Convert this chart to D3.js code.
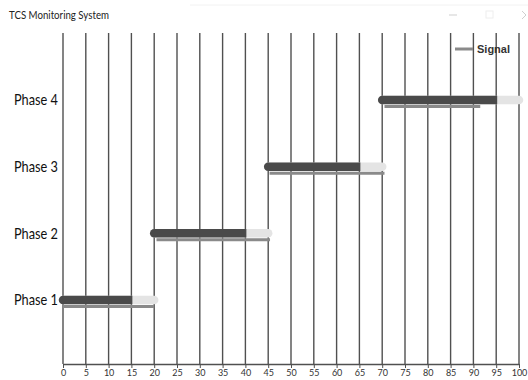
<!DOCTYPE html>
<html>
<head>
<meta charset="utf-8">
<script src="https://cdn.jsdelivr.net/npm/d3@7"></script>
<style>
  html, body { margin: 0; padding: 0; background: #fff; }
  svg { display: block; }
</style>
</head>
<body>
<svg id="chart" width="528" height="380"></svg>
<script>
const phases = ["Phase 1", "Phase 2", "Phase 3", "Phase 4"];
const barStart = [0, 20, 45, 70];
const barMid = [15, 40, 65, 95];
const barEnd = [20, 45, 70, 100];
const signalStart = [0, 20.5, 45.3, 70.5];
const signalEnd = [20, 45.4, 70.5, 91.5];
const xTicks = d3.range(0, 101, 5);

const svg = d3.select("#chart");

// window title bar
svg.append("text").attr("x", 9).attr("y", 19)
  .attr("font-family", "Lato, 'Open Sans', sans-serif")
  .attr("font-size", 11.5).attr("fill", "#222")
  .attr("textLength", 100).attr("lengthAdjust", "spacingAndGlyphs")
  .text("TCS Monitoring System");
svg.append("line").attr("x1", 190).attr("x2", 528).attr("y1", 5).attr("y2", 5)
  .attr("stroke", "#f2f2f2").attr("stroke-width", 1);
svg.append("line").attr("x1", 449).attr("x2", 457).attr("y1", 15).attr("y2", 15)
  .attr("stroke", "#cfcfcf").attr("stroke-width", 1);
svg.append("rect").attr("x", 486).attr("y", 11).attr("width", 7).attr("height", 7)
  .attr("fill", "none").attr("stroke", "#eeeeee").attr("stroke-width", 1);
svg.append("path").attr("d", "M522,11 L526,15 L522,19")
  .attr("fill", "none").attr("stroke", "#cfcfcf").attr("stroke-width", 1);

const x = d3.scaleLinear().domain([0, 100]).range([63, 519]);
const y = d3.scalePoint().domain(phases).range([300, 100]);
const axisY = 364, gridTop = 33;

// grid lines
svg.append("g").selectAll("line").data(xTicks).join("line")
  .attr("x1", d => x(d)).attr("x2", d => x(d))
  .attr("y1", gridTop).attr("y2", axisY)
  .attr("stroke", "#505050").attr("stroke-width", 1.4);

// x axis
const xAxis = svg.append("g").attr("transform", `translate(0,${axisY})`)
  .call(d3.axisBottom(x).tickValues(xTicks).tickSize(4).tickSizeOuter(0).tickPadding(2));
xAxis.select(".domain").attr("stroke", "#505050").attr("stroke-width", 1.5);
xAxis.selectAll(".tick line").attr("stroke", "#505050");
xAxis.selectAll("text").attr("font-family", "Lato, 'Open Sans', sans-serif")
  .attr("font-size", 9).attr("fill", "#333");

// phase labels
svg.append("g").selectAll("text").data(phases).join("text")
  .attr("x", 14).attr("y", d => y(d)).attr("dy", "0.35em")
  .attr("font-family", "Lato, 'Open Sans', sans-serif")
  .attr("font-size", 15).attr("fill", "#111")
  .attr("textLength", 44).attr("lengthAdjust", "spacingAndGlyphs")
  .text(d => d);

// light bars (full extent)
svg.append("g").selectAll("line").data(phases).join("line")
  .attr("x1", (d, i) => x(barStart[i])).attr("x2", (d, i) => x(barEnd[i]))
  .attr("y1", d => y(d)).attr("y2", d => y(d))
  .attr("stroke", "#e4e4e4").attr("stroke-width", 8.5).attr("stroke-linecap", "round");

// dark bars (completed): rounded left end, flat right end
svg.append("g").selectAll("path").data(phases).join("path")
  .attr("d", (d, i) => {
    const x0 = x(barStart[i]), x1 = x(barMid[i]) + 1, cy = y(d), r = 4.25;
    return `M${x1},${cy - r} L${x0},${cy - r} A${r},${r} 0 0 0 ${x0},${cy + r} L${x1},${cy + r} Z`;
  })
  .attr("fill", "#4a4a4a");

// signal lines
svg.append("g").selectAll("line").data(phases).join("line")
  .attr("x1", (d, i) => x(signalStart[i])).attr("x2", (d, i) => x(signalEnd[i]))
  .attr("y1", d => y(d) + 6.5).attr("y2", d => y(d) + 6.5)
  .attr("stroke", "#8a8a8a").attr("stroke-width", 3);

// legend
svg.append("line").attr("x1", 455).attr("x2", 473).attr("y1", 49).attr("y2", 49)
  .attr("stroke", "#8a8a8a").attr("stroke-width", 3);
svg.append("text").attr("x", 477).attr("y", 53)
  .attr("font-family", "'Liberation Sans', Arial, sans-serif")
  .attr("font-size", 11).attr("font-weight", "bold").attr("fill", "#333").text("Signal");
</script>
</body>
</html>
